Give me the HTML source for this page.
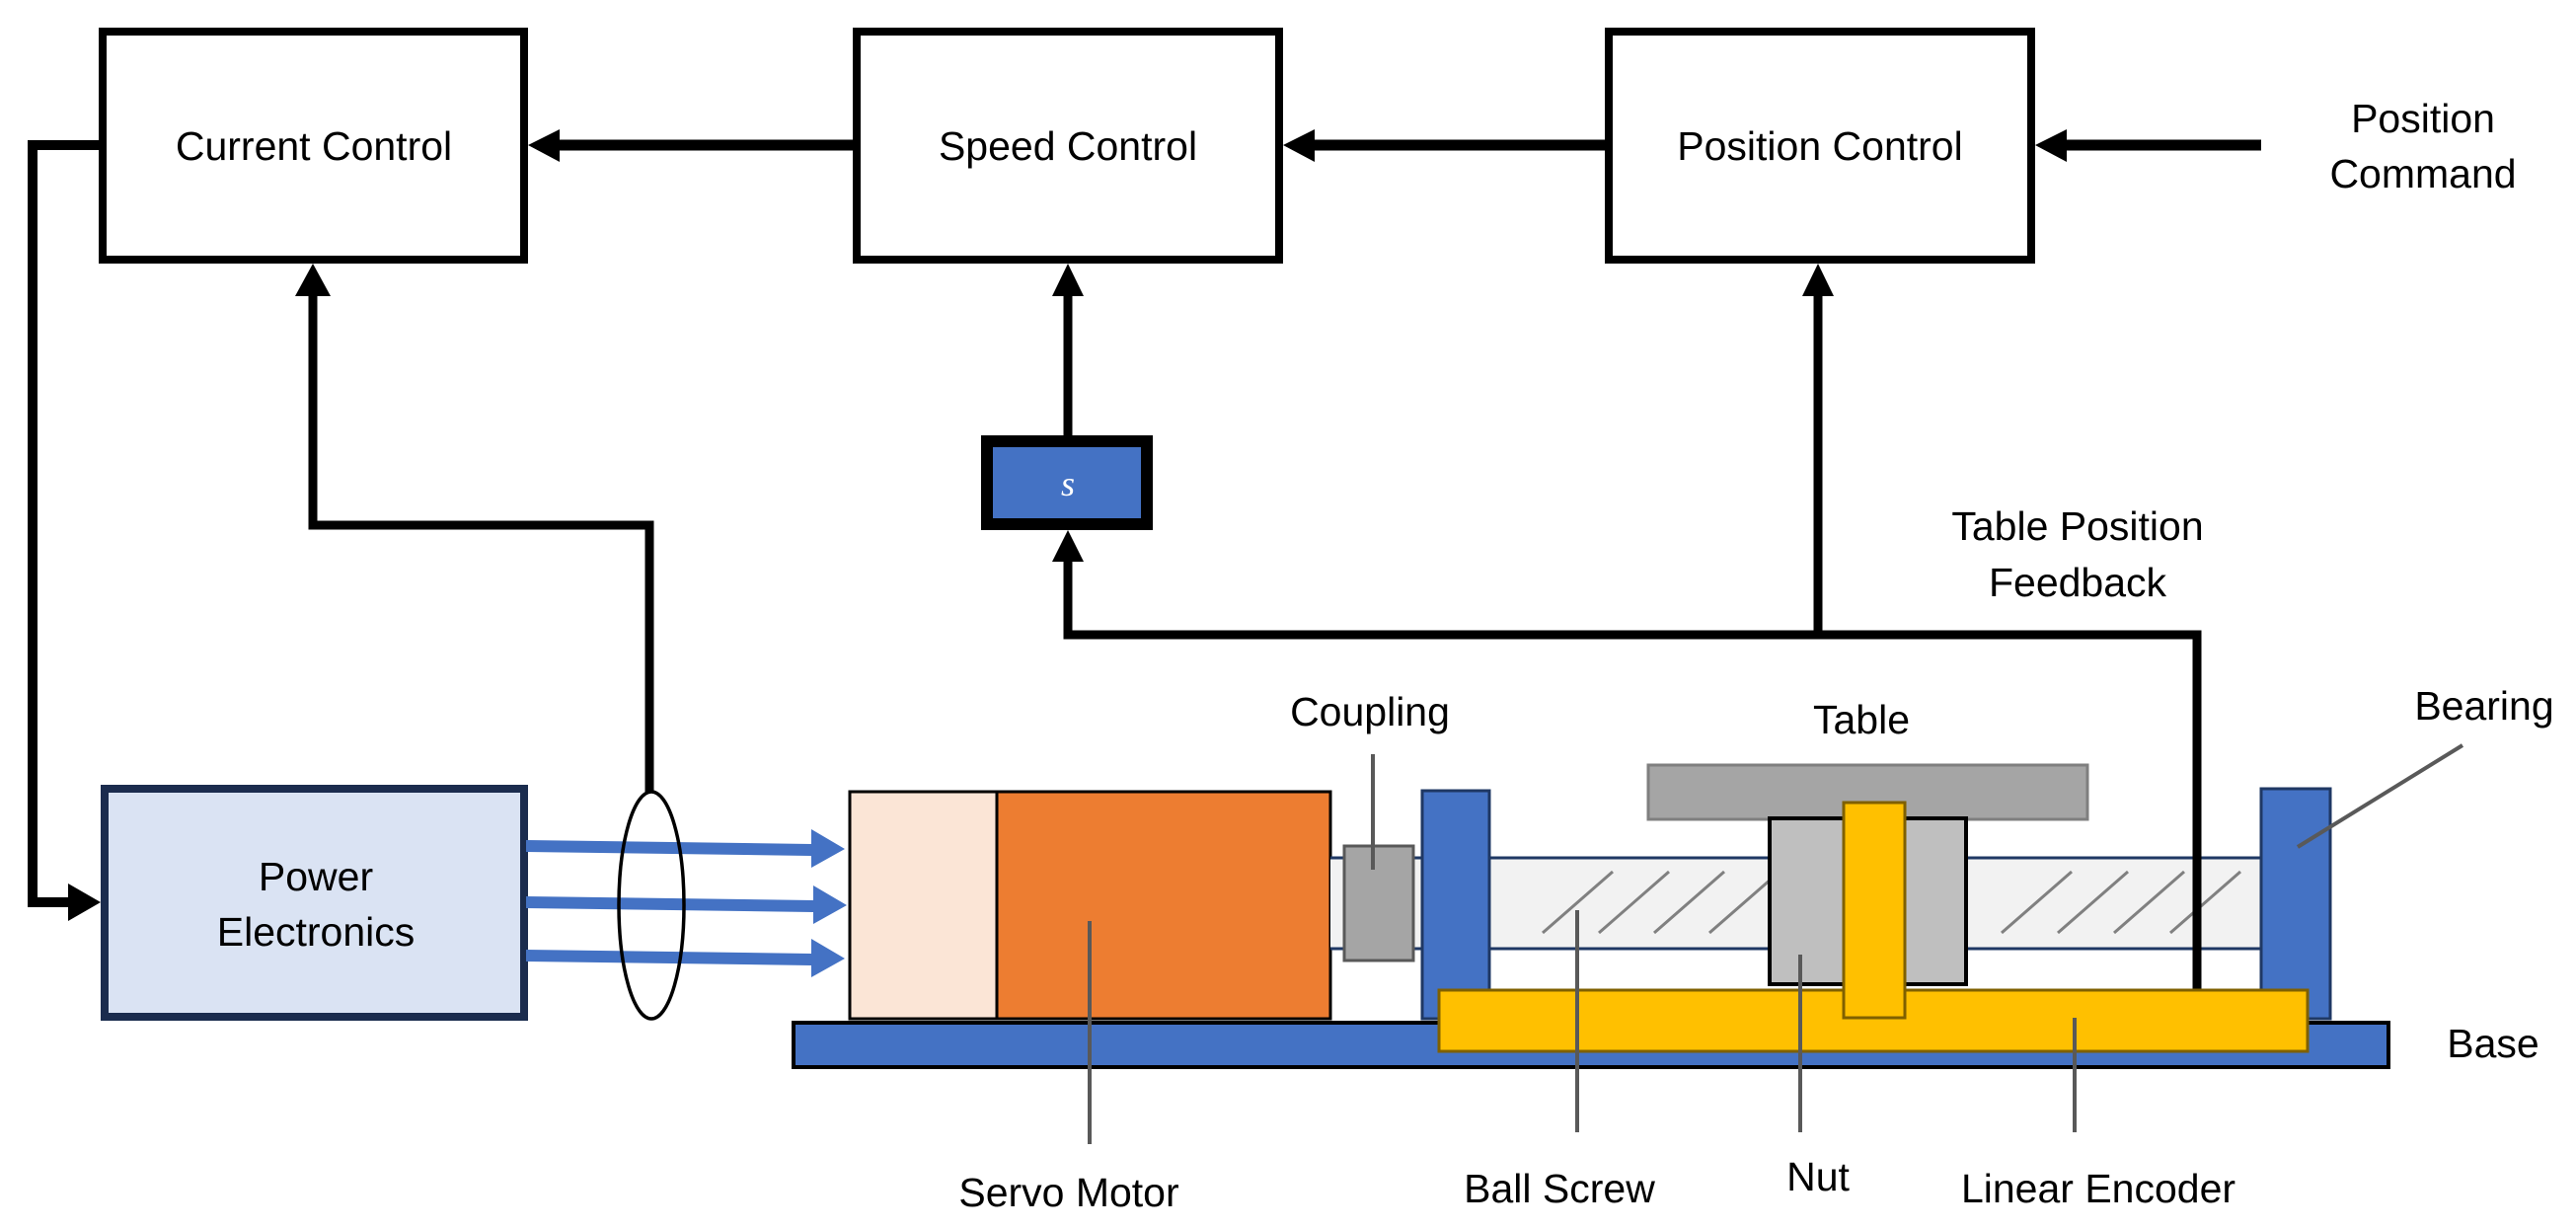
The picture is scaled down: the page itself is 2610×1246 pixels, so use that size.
<!DOCTYPE html>
<html><head><meta charset="utf-8"><style>html,body{margin:0;padding:0;background:#fff}svg{display:block}text{font-family:"Liberation Sans",Arial,sans-serif}</style></head>
<body>
<svg width="2610" height="1246" viewBox="0 0 2610 1246" xmlns="http://www.w3.org/2000/svg" font-size="41" text-anchor="middle">
<rect width="2610" height="1246" fill="#fff"/>
<rect x="104" y="32" width="427" height="231" fill="#fff" stroke="#000" stroke-width="8"/>
<rect x="868" y="32" width="428" height="231" fill="#fff" stroke="#000" stroke-width="8"/>
<rect x="1630" y="32" width="428" height="231" fill="#fff" stroke="#000" stroke-width="8"/>
<text x="318" y="162">Current Control</text>
<text x="1082" y="162">Speed Control</text>
<text x="1844" y="162">Position Control</text>
<line x1="2291" y1="147" x2="2090" y2="147" stroke="#000" stroke-width="11"/>
<polygon points="2062,147 2094,131 2094,164" fill="#000"/>
<line x1="1626" y1="147" x2="1330" y2="147" stroke="#000" stroke-width="11"/>
<polygon points="1300,147 1332,131 1332,164" fill="#000"/>
<line x1="864" y1="147" x2="565" y2="147" stroke="#000" stroke-width="11"/>
<polygon points="535,147 567,131 567,164" fill="#000"/>
<text x="2455" y="134">Position</text>
<text x="2455" y="190">Command</text>
<text x="2105" y="547">Table Position</text>
<text x="2105" y="604">Feedback</text>
<polyline points="100,147 33,147 33,914 75,914" fill="none" stroke="#000" stroke-width="10"/>
<polygon points="102,914 69,895 69,933" fill="#000"/>
<polyline points="317,297 317,532 658,532 658,802" fill="none" stroke="#000" stroke-width="9"/>
<polygon points="317,267 299,300 335,300" fill="#000"/>
<rect x="1000" y="447" width="162" height="84" fill="#4472c4" stroke="#000" stroke-width="12"/>
<text x="1082" y="502" style="font-family:'Liberation Serif',serif" font-style="italic" font-size="36" fill="#fff">s</text>
<line x1="1082" y1="441" x2="1082" y2="297" stroke="#000" stroke-width="9"/>
<polygon points="1082,267 1066,300 1098,300" fill="#000"/>
<polyline points="1082,567 1082,643 2226,643 2226,1002" fill="none" stroke="#000" stroke-width="9"/>
<polygon points="1082,537 1066,569 1098,569" fill="#000"/>
<line x1="1842" y1="643" x2="1842" y2="297" stroke="#000" stroke-width="9"/>
<polygon points="1842,267 1826,300 1858,300" fill="#000"/>
<rect x="106" y="799" width="425" height="231" fill="#dae3f3" stroke="#1b2c4e" stroke-width="8"/>
<text x="320" y="902">Power</text>
<text x="320" y="958">Electronics</text>
<g fill="#4472c4">
<polygon points="533,851 822,855 822,840 856,860 822,879 822,867 533,863"/>
<polygon points="533,908 824,912 824,897 858,917 824,936 824,924 533,920"/>
<polygon points="533,962 822,966 822,951 856,971 822,990 822,978 533,974"/>
</g>
<ellipse cx="660" cy="917" rx="33" ry="115" fill="none" stroke="#000" stroke-width="3.5"/>
<rect x="804" y="1036" width="1616" height="45" fill="#4472c4" stroke="#000" stroke-width="4"/>
<rect x="861" y="802" width="149" height="230" fill="#fbe5d6" stroke="#000" stroke-width="3"/>
<rect x="1010" y="802" width="338" height="230" fill="#ed7d31" stroke="#000" stroke-width="3"/>
<rect x="1348" y="869" width="942" height="92" fill="#f2f2f2"/>
<line x1="1348" y1="869" x2="2290" y2="869" stroke="#1f3864" stroke-width="3"/>
<line x1="1348" y1="961" x2="2290" y2="961" stroke="#1f3864" stroke-width="3"/>
<g stroke="#808080" stroke-width="3">
<line x1="1563" y1="945" x2="1634" y2="883"/>
<line x1="1620" y1="945" x2="1691" y2="883"/>
<line x1="1676" y1="945" x2="1747" y2="883"/>
<line x1="1732" y1="945" x2="1803" y2="883"/>
<line x1="2028" y1="945" x2="2099" y2="883"/>
<line x1="2085" y1="945" x2="2156" y2="883"/>
<line x1="2142" y1="945" x2="2213" y2="883"/>
<line x1="2199" y1="945" x2="2270" y2="883"/>
</g>
<rect x="1362" y="857" width="70" height="116" fill="#a5a5a5" stroke="#595959" stroke-width="3"/>
<rect x="1441" y="801" width="68" height="231" fill="#4472c4" stroke="#1f3864" stroke-width="3"/>
<rect x="2291" y="799" width="70" height="233" fill="#4472c4" stroke="#1f3864" stroke-width="3"/>
<rect x="1670" y="775" width="445" height="55" fill="#a5a5a5" stroke="#7f7f7f" stroke-width="3"/>
<rect x="1793" y="829" width="199" height="168" fill="#bfbfbf" stroke="#000" stroke-width="4"/>
<line x1="2226" y1="643" x2="2226" y2="1002" stroke="#000" stroke-width="9"/>
<rect x="1458" y="1003" width="880" height="62" fill="#ffc000" stroke="#7f6000" stroke-width="3"/>
<rect x="1868" y="813" width="62" height="218" fill="#ffc000" stroke="#7f6000" stroke-width="3"/>
<g stroke="#595959" stroke-width="4">
<line x1="1104" y1="933" x2="1104" y2="1159"/>
<line x1="1391" y1="764" x2="1391" y2="881"/>
<line x1="1598" y1="922" x2="1598" y2="1147"/>
<line x1="1824" y1="967" x2="1824" y2="1147"/>
<line x1="2102" y1="1031" x2="2102" y2="1147"/>
<line x1="2495" y1="755" x2="2328" y2="858"/>
</g>
<text x="1388" y="735">Coupling</text>
<text x="1886" y="743">Table</text>
<text x="2517" y="729">Bearing</text>
<text x="2526" y="1071">Base</text>
<text x="1083" y="1222">Servo Motor</text>
<text x="1580" y="1218">Ball Screw</text>
<text x="1842" y="1206">Nut</text>
<text x="2126" y="1218">Linear Encoder</text>
</svg>
</body></html>
